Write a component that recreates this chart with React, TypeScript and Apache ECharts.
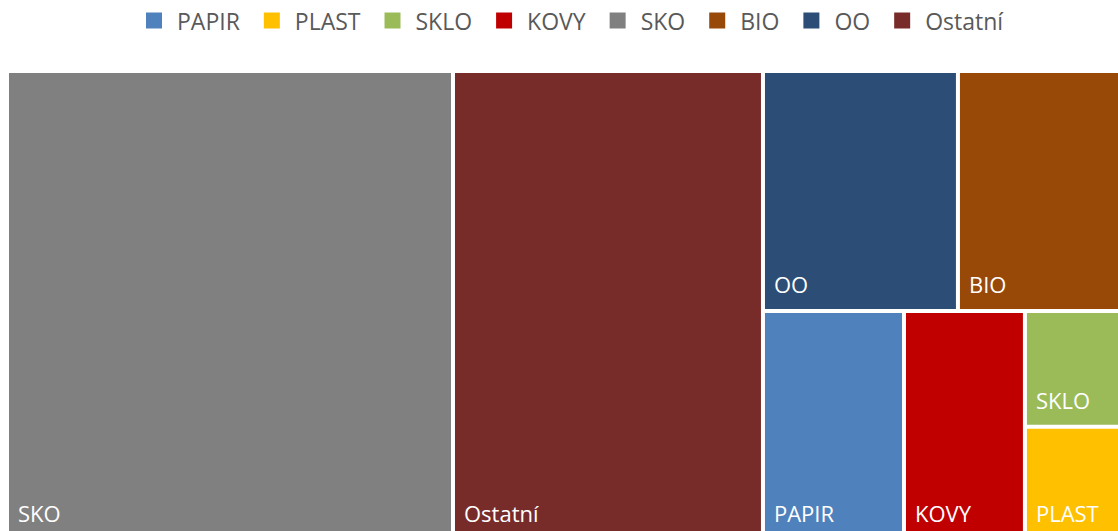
import React, { useEffect, useRef } from "react";
import * as echarts from "echarts";

const categories = ["PAPIR", "PLAST", "SKLO", "KOVY", "SKO", "BIO", "OO", "Ostatní"];
const values = [323, 136, 139, 277, 2092, 449, 468, 1454];
const colors = ["#4F81BD", "#FFC000", "#9BBB59", "#C00000", "#808080", "#984807", "#2C4D75", "#772C2A"];

const FONT = "'Open Sans', 'Noto Sans', sans-serif";

export default function App() {
  const ref = useRef<HTMLDivElement>(null);
  useEffect(() => {
    if (!ref.current) return;
    const chart = echarts.init(ref.current, undefined, { renderer: "svg" });
    const data = categories.map((name, i) => ({
      name,
      value: values[i],
      itemStyle: { color: colors[i] },
    }));
    chart.setOption({
      animation: false,
      backgroundColor: "#ffffff",
      legend: {
        top: 9,
        left: 146,
        padding: 0,
        itemWidth: 16,
        itemHeight: 16,
        itemGap: 24,
        icon: "rect",
        selectedMode: false,
        textStyle: {
          color: "#595959",
          fontSize: 23,
          fontFamily: FONT,
          padding: [2, 0, 0, 10],
        },
        data: categories,
      },
      series: [
        {
          type: "pie",
          radius: [0, 0],
          center: [-50, -50],
          silent: true,
          label: { show: false },
          labelLine: { show: false },
          data,
        },
        {
          type: "treemap",
          left: 9,
          top: 73,
          width: 1134,
          height: 465,
          roam: false,
          nodeClick: false,
          squareRatio: 1,
          sort: "desc",
          breadcrumb: { show: false },
          itemStyle: { gapWidth: 4, borderWidth: 0, borderColor: "#ffffff" },
          levels: [{ itemStyle: { gapWidth: 4, borderWidth: 0, borderColor: "#ffffff" } }],
          upperLabel: { show: false },
          label: {
            show: true,
            position: "insideBottomLeft",
            distance: 9,
            padding: [0, 0, 5, 0],
            color: "#ffffff",
            fontSize: 22,
            lineHeight: 22,
            fontFamily: FONT,
          },
          emphasis: { disabled: true },
          data,
        },
      ],
    });
    return () => chart.dispose();
  }, []);
  return (
    <div
      ref={ref}
      style={{ position: "fixed", left: 0, top: 0, width: 1118, height: 531, overflow: "hidden" }}
    />
  );
}
